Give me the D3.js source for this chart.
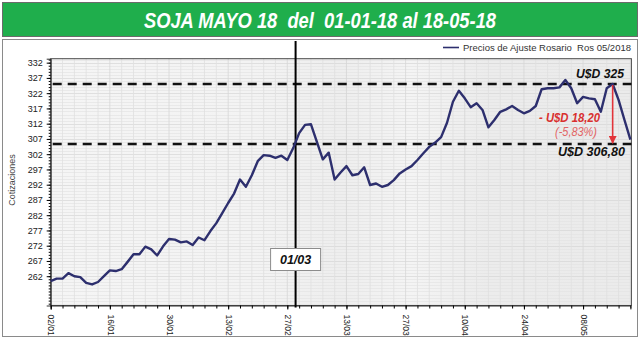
<!DOCTYPE html>
<html>
<head>
<meta charset="utf-8">
<script src="https://cdn.jsdelivr.net/npm/d3@7"></script>
<style>
  body { margin: 0; background: #fff; }
  text { font-family: "Liberation Sans", Arial, sans-serif; }
</style>
</head>
<body>
<svg width="640" height="340"></svg>
<script>
// weekdays from 02/01/2018 to 18/05/2018 (category axis)
const fmt = d3.timeFormat("%d/%m");
const categories = d3.timeDay.range(new Date(2018, 0, 2), new Date(2018, 4, 19))
  .filter(d => d.getDay() > 0 && d.getDay() < 6)
  .map(fmt);

// Precios de Ajuste Rosario Ros 05/2018 (U$S/t)
const prices = [
  260.4, 261.2, 261.2, 263.0, 262.0, 261.7, 259.8, 259.3, 260.1, 262.0,
  263.9, 263.7, 264.3, 266.7, 269.2, 269.2, 271.7, 270.8, 268.8, 271.8,
  274.2, 274.0, 273.1, 273.4, 272.2, 274.7, 273.8, 276.8, 279.4, 282.7,
  286.0, 289.1, 293.7, 291.3, 295.1, 299.7, 301.7, 301.5, 300.8, 301.5,
  300.1, 304.0, 308.9, 311.6, 311.8, 306.0, 300.3, 302.5, 293.7, 296.0,
  298.1, 295.1, 295.5, 297.7, 291.9, 292.4, 291.3, 291.9, 293.5, 295.7,
  297.0, 298.1, 300.1, 302.3, 304.4, 305.8, 307.6, 312.3, 319.2, 322.8,
  320.3, 317.4, 318.7, 316.5, 310.8, 313.2, 315.9, 316.7, 317.8, 316.5,
  315.4, 316.2, 317.8, 323.3, 323.6, 323.6, 323.9, 326.3, 323.6, 318.7,
  320.8, 320.3, 320.0, 315.9, 323.6, 325.0, 319.8, 313.2, 306.8
];

const tickLabels = ["02/01", "16/01", "30/01", "13/02", "27/02", "13/03", "27/03", "10/04", "24/04", "08/05"];
const yTicks = d3.range(262, 333, 5);
const refLevels = [325, 305.3];          // dashed reference lines
const markerIndex = 41.4;                // vertical line "01/03"
const markerLabel = "01/03";
const peakLabel = "U$D 325";
const lastLabel = "U$D 306,80";
const diffLabel = "- U$D 18,20";
const pctLabel = "(-5,83%)";
const peakDate = "15/05";

const svg = d3.select("svg");
const pLeft = 50.7, pRight = 630.4, pTop = 58.7, pBottom = 305.5;

const x = d3.scalePoint().domain(categories).range([pLeft, pRight]);
const xi = d3.scaleLinear().domain([0, categories.length - 1]).range([pLeft, pRight]);
const y = d3.scaleLinear().domain([252.4, 333.3]).range([pBottom, pTop]);

// title banner
svg.append("rect").attr("x", 2.5).attr("y", 2.5).attr("width", 635).attr("height", 34)
  .attr("fill", "#1fae4c").attr("stroke", "#6b6b6b");
svg.append("text").attr("x", 320).attr("y", 27.5).attr("text-anchor", "middle")
  .attr("font-size", 22).attr("font-weight", "bold").attr("font-style", "italic")
  .attr("fill", "#fff").attr("textLength", 352).attr("lengthAdjust", "spacingAndGlyphs")
  .attr("xml:space", "preserve")
  .text("SOJA MAYO 18  del  01-01-18 al 18-05-18");

// chart frame
svg.append("rect").attr("x", 2.5).attr("y", 39.5).attr("width", 635).attr("height", 297)
  .attr("fill", "#fff").attr("stroke", "#8a8a8a");

// plot background with soft vertical shading
const grad = svg.append("defs").append("linearGradient").attr("id", "bg")
  .attr("x1", 0).attr("x2", 1).attr("y1", 0).attr("y2", 0);
[[0, "#f5f5f5"], [0.35, "#f3f3f3"], [0.5, "#eeeeee"], [0.62, "#f4f4f4"], [0.75, "#ececec"], [1, "#ebebeb"]]
  .forEach(([o, c]) => grad.append("stop").attr("offset", o).attr("stop-color", c));
svg.append("rect").attr("x", pLeft).attr("y", pTop).attr("width", pRight - pLeft + 1).attr("height", pBottom - pTop)
  .attr("fill", "url(#bg)");

// gridlines
const g = svg.append("g");
g.selectAll(".hg").data(d3.range(253, 334)).join("line")
  .attr("x1", pLeft).attr("x2", pRight + 1)
  .attr("y1", d => Math.round(y(d)) + 0.5).attr("y2", d => Math.round(y(d)) + 0.5)
  .attr("stroke", d => yTicks.includes(d) ? "#d6d6d6" : "#e4e4e4").attr("stroke-width", 0.7);
g.selectAll(".vg").data(categories.filter((d, i) => i % 2 === 0)).join("line")
  .attr("x1", d => x(d)).attr("x2", d => x(d))
  .attr("y1", pTop).attr("y2", pBottom)
  .attr("stroke", d => tickLabels.includes(d) ? "#d6d6d6" : "#e0e0e0").attr("stroke-width", 0.8);

// plot border
svg.append("rect").attr("x", pLeft).attr("y", pTop).attr("width", pRight - pLeft + 1).attr("height", pBottom - pTop)
  .attr("fill", "none").attr("stroke", "#4a4a4a").attr("stroke-width", 1);

// y axis
const yAxis = svg.append("g").attr("transform", `translate(${pLeft},0)`)
  .call(d3.axisLeft(y).tickValues(yTicks).tickSize(4).tickPadding(4));
yAxis.select(".domain").attr("stroke", "#333");
yAxis.selectAll("text").attr("font-size", 9).attr("fill", "#222");
svg.append("g").attr("transform", `translate(${pLeft},0)`)
  .call(d3.axisLeft(y).tickValues(d3.range(253, 334)).tickSize(2).tickFormat(""))
  .call(s => s.select(".domain").remove());

svg.append("text").attr("transform", "translate(15,180) rotate(-90)")
  .attr("text-anchor", "middle").attr("font-size", 9).attr("fill", "#444")
  .text("Cotizaciones");

// x axis
const xAxis = svg.append("g").attr("transform", `translate(0,${pBottom})`)
  .call(d3.axisBottom(x).tickValues(tickLabels).tickSize(4).tickPadding(3));
xAxis.select(".domain").attr("stroke", "#333");
xAxis.selectAll("text").attr("font-size", 8.5).attr("fill", "#222")
  .attr("transform", "rotate(90)").attr("text-anchor", "start")
  .attr("x", 9).attr("y", 0).attr("dy", "0.33em");
svg.append("g").attr("transform", `translate(0,${pBottom})`)
  .call(d3.axisBottom(x).tickValues(categories.filter((d, i) => i % 2 === 0)).tickSize(3).tickFormat(""))
  .call(s => s.select(".domain").remove());

// dashed reference lines
svg.selectAll(".ref").data(refLevels).join("line")
  .attr("x1", pLeft + 2).attr("x2", pRight + 1)
  .attr("y1", d => y(d)).attr("y2", d => y(d))
  .attr("stroke", "#111").attr("stroke-width", 2.5).attr("stroke-dasharray", "9,6");

// vertical marker line
svg.append("line").attr("x1", xi(markerIndex)).attr("x2", xi(markerIndex))
  .attr("y1", 41).attr("y2", pBottom + 2)
  .attr("stroke", "#000").attr("stroke-width", 2);

// price line
svg.append("path").datum(prices)
  .attr("fill", "none").attr("stroke", "#2d2f6e").attr("stroke-width", 2.4)
  .attr("stroke-linejoin", "round")
  .attr("d", d3.line().x((d, i) => x(categories[i])).y(d => y(d)));

// marker label box
const mx = xi(markerIndex);
svg.append("rect").attr("x", mx - 25).attr("y", 248.5).attr("width", 50).attr("height", 22)
  .attr("fill", "#fff").attr("stroke", "#8c8c8c");
svg.append("text").attr("x", mx).attr("y", 264).attr("text-anchor", "middle")
  .attr("font-size", 12.5).attr("font-weight", "bold").attr("font-style", "italic").attr("fill", "#111")
  .text(markerLabel);

// red arrow from peak to last value
const px = x(peakDate);
svg.select("defs").append("marker").attr("id", "ah").attr("viewBox", "0 0 10 10")
  .attr("refX", 9).attr("refY", 5).attr("markerWidth", 5).attr("markerHeight", 5)
  .attr("markerUnits", "strokeWidth").attr("orient", "auto")
  .append("path").attr("d", "M0,0L10,5L0,10z").attr("fill", "#e2343a");
svg.append("line").attr("x1", px).attr("x2", px)
  .attr("y1", y(325) + 1).attr("y2", y(refLevels[1]) - 1)
  .attr("stroke", "#e2343a").attr("stroke-width", 1.6).attr("marker-end", "url(#ah)");

// annotations
const ann = (t, ax, ay, len, fill, weight) => svg.append("text")
  .attr("x", ax).attr("y", ay).attr("font-size", 13).attr("font-style", "italic")
  .attr("font-weight", weight).attr("fill", fill)
  .attr("textLength", len).attr("lengthAdjust", "spacingAndGlyphs").text(t);
ann(peakLabel, 576, 78, 48, "#111", "bold");
ann(lastLabel, 558, 156, 67, "#111", "bold");
ann(diffLabel, 539, 122, 61, "#d9302f", "bold");
ann(pctLabel, 555, 136, 42, "#e26565", "normal");

// legend
svg.append("line").attr("x1", 443).attr("x2", 459).attr("y1", 47.5).attr("y2", 47.5)
  .attr("stroke", "#2d2f6e").attr("stroke-width", 1.6);
svg.append("text").attr("x", 463).attr("y", 50.5).attr("font-size", 9.5).attr("fill", "#333")
  .attr("textLength", 168).attr("lengthAdjust", "spacingAndGlyphs").attr("xml:space", "preserve")
  .text("Precios de Ajuste Rosario  Ros 05/2018");
</script>
</body>
</html>
